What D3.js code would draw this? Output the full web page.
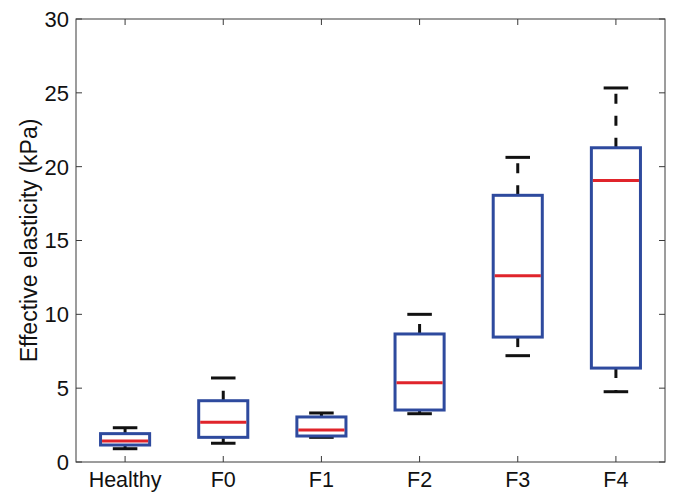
<!DOCTYPE html>
<html><head><meta charset="utf-8">
<script src="https://cdn.jsdelivr.net/npm/d3@7"></script>
<style>body{margin:0;background:#fff}svg{display:block}text{font-family:"Liberation Sans",Arial,Helvetica,sans-serif}</style>
</head><body>
<svg id="c" width="683" height="500"></svg>
<script>
const categories = ["Healthy","F0","F1","F2","F3","F4"];
const whiskerLow  = [0.90, 1.27, 1.67, 3.27, 7.20, 4.76];
const q1          = [1.15, 1.67, 1.76, 3.52, 8.46, 6.36];
const medians     = [1.42, 2.69, 2.17, 5.37, 12.61, 19.07];
const q3          = [1.92, 4.15, 3.05, 8.67, 18.06, 21.28];
const whiskerHigh = [2.32, 5.69, 3.32, 10.00, 20.63, 25.33];
const yTicks = [0,5,10,15,20,25,30];

const svg = d3.select("#c");
const L=76, R=665, T=19, B=462;
const x = d3.scaleLinear().domain([0.5, categories.length+0.5]).range([L,R]);
const y = d3.scaleLinear().domain([0,30]).range([B,T]);
const axisColor="#3a3a3a";

svg.append("rect").attr("x",L).attr("y",T).attr("width",R-L).attr("height",B-T)
  .attr("fill","none").attr("stroke",axisColor).attr("stroke-width",1);

const tl=6;
yTicks.forEach(t=>{
  svg.append("line").attr("x1",L).attr("x2",L+tl).attr("y1",y(t)).attr("y2",y(t)).attr("stroke",axisColor);
  svg.append("line").attr("x1",R).attr("x2",R-tl).attr("y1",y(t)).attr("y2",y(t)).attr("stroke",axisColor);
  svg.append("text").attr("x",L-7).attr("y",y(t)).attr("dy","0.36em").attr("text-anchor","end")
    .attr("font-size",22).attr("fill","#111").text(t);
});
categories.forEach((c,i)=>{
  const cx=x(i+1);
  svg.append("line").attr("x1",cx).attr("x2",cx).attr("y1",B).attr("y2",B-tl).attr("stroke",axisColor);
  svg.append("line").attr("x1",cx).attr("x2",cx).attr("y1",T).attr("y2",T+tl).attr("stroke",axisColor);
  svg.append("text").attr("x",cx).attr("y",487).attr("text-anchor","middle")
    .attr("font-size",21.5).attr("fill","#111").text(c);
});
svg.append("text").attr("transform",`translate(29,${(T+B)/2}) rotate(-90)`).attr("text-anchor","middle")
  .attr("dy","0.36em").attr("font-size",23).attr("fill","#111").text("Effective elasticity (kPa)");

const bw=0.5, cw=0.25;
categories.forEach((c,i)=>{
  const cx=x(i+1);
  const g=svg.append("g");
  g.append("line").attr("x1",cx).attr("x2",cx).attr("y1",y(q3[i])).attr("y2",y(whiskerHigh[i]))
    .attr("stroke","#111").attr("stroke-width",3).attr("stroke-dasharray","10,12");
  g.append("line").attr("x1",cx).attr("x2",cx).attr("y1",y(q1[i])).attr("y2",y(whiskerLow[i]))
    .attr("stroke","#111").attr("stroke-width",3).attr("stroke-dasharray","10,12");
  [whiskerLow[i], whiskerHigh[i]].forEach(v=>{
    g.append("line").attr("x1",x(i+1-cw/2)).attr("x2",x(i+1+cw/2)).attr("y1",y(v)).attr("y2",y(v))
      .attr("stroke","#111").attr("stroke-width",3);
  });
  g.append("rect").attr("x",x(i+1-bw/2)).attr("width",x(i+1+bw/2)-x(i+1-bw/2))
    .attr("y",y(q3[i])).attr("height",y(q1[i])-y(q3[i]))
    .attr("fill","#fff").attr("stroke","#2e4a9e").attr("stroke-width",3);
  g.append("line").attr("x1",x(i+1-bw/2)+1.5).attr("x2",x(i+1+bw/2)-1.5).attr("y1",y(medians[i])).attr("y2",y(medians[i]))
    .attr("stroke","#e0242b").attr("stroke-width",3);
});
</script>
</body></html>
